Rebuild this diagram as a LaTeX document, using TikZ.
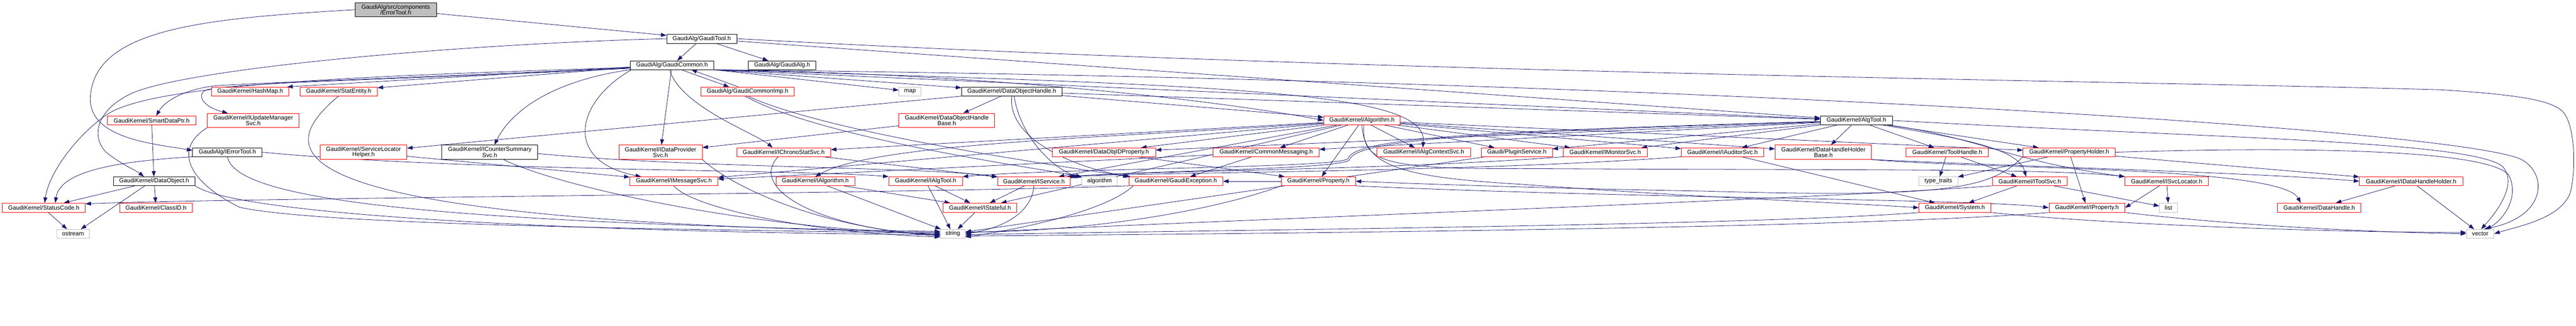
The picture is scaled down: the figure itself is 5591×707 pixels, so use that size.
\documentclass[tikz,border=0pt]{standalone}
\usepackage{fontspec}
\setmainfont{Liberation Sans}
\usetikzlibrary{arrows.meta}
\pgfdeclarelayer{bg}
\pgfsetlayers{bg,main}
\definecolor{edgec}{HTML}{191970}
\definecolor{redb}{HTML}{FF0000}
\definecolor{greyb}{HTML}{BFBFBF}
\newcommand\fsz{\fontsize{13pt}{12pt}\selectfont}
\newcommand\mknode[7]{\node[#1,minimum width={#5pt-#3pt},minimum height={#6pt-#4pt}] (#2) at ({(#3+#5)/2},{-(#4+#6)/2}) {#7};}
\tikzset{
  box/.style={draw, line width=0.9pt, fill=white, inner sep=0pt, font=\fsz, align=center, text=black},
  bk/.style={box, draw=black},
  rd/.style={box, draw=redb},
  gy/.style={box, draw=greyb},
  gf/.style={box, draw=black, fill=greyb},
  edg/.style={draw=edgec, line width=0.9pt, -{Triangle[length=12pt,width=8.5pt]}},
}
\begin{document}
\begin{tikzpicture}[x=1pt,y=1pt]
\useasboundingbox (0,0) rectangle (5591,-707);
% row 0-2
\mknode{gf}{ET}{771}{5.5}{947}{36.5}{GaudiAlg/src/components\\/ErrorTool.h}
\mknode{bk}{GT}{1447}{74}{1599}{94}{GaudiAlg/GaudiTool.h}
\mknode{bk}{GC}{1368}{132}{1549}{151}{GaudiAlg/GaudiCommon.h}
\mknode{bk}{GA}{1624}{132}{1771}{151}{GaudiAlg/GaudiAlg.h}
% row 3
\mknode{rd}{HM}{459}{189}{627}{208}{GaudiKernel/HashMap.h}
\mknode{rd}{SE}{651}{189}{819}{208}{GaudiKernel/StatEntity.h}
\mknode{rd}{GCI}{1521}{189}{1724}{208}{GaudiAlg/GaudiCommonImp.h}
\mknode{gy}{MAP}{1951}{189}{1999}{208}{map}
\mknode{bk}{DOH}{2087}{189}{2305}{208}{GaudiKernel/DataObjectHandle.h}
% row 4
\mknode{rd}{SDP}{233}{252}{425}{271}{GaudiKernel/SmartDataPtr.h}
\mknode{rd}{IUMS}{450}{246}{649}{277}{GaudiKernel/IUpdateManager\\Svc.h}
\mknode{rd}{DOHB}{1951}{246}{2159}{277}{GaudiKernel/DataObjectHandle\\Base.h}
\mknode{rd}{ALG}{2873}{252}{3039}{271}{GaudiKernel/Algorithm.h}
\mknode{bk}{AT}{3951}{252}{4107}{271}{GaudiKernel/AlgTool.h}
% row 5
\mknode{bk}{IET}{418}{321}{569}{340}{GaudiAlg/IErrorTool.h}
\mknode{rd}{SLH}{695}{315}{883}{346}{GaudiKernel/ServiceLocator\\Helper.h}
\mknode{bk}{ICSS}{959}{315}{1167}{346}{GaudiKernel/ICounterSummary\\Svc.h}
\mknode{rd}{IDPS}{1343}{315}{1524}{346}{GaudiKernel/IDataProvider\\Svc.h}
\mknode{rd}{ICSt}{1599}{321}{1803}{340}{GaudiKernel/IChronoStatSvc.h}
\mknode{rd}{DOIP}{2284}{321}{2508}{340}{GaudiKernel/DataObjIDProperty.h}
\mknode{rd}{CM}{2633}{321}{2863}{340}{GaudiKernel/CommonMessaging.h}
\mknode{rd}{IACS}{2988}{321}{3192}{340}{GaudiKernel/IAlgContextSvc.h}
\mknode{rd}{PS}{3215}{321}{3369}{340}{Gaudi/PluginService.h}
\mknode{rd}{IMS}{3393}{321}{3575}{340}{GaudiKernel/IMonitorSvc.h}
\mknode{rd}{IAS}{3649}{321}{3828}{340}{GaudiKernel/IAuditorSvc.h}
\mknode{rd}{DHHB}{3853}{315}{4062}{346}{GaudiKernel/DataHandleHolder\\Base.h}
\mknode{rd}{TH}{4137}{321}{4316}{340}{GaudiKernel/ToolHandle.h}
\mknode{rd}{PH}{4391}{321}{4591}{340}{GaudiKernel/PropertyHolder.h}
% row 6
\mknode{bk}{DO}{246}{384}{423}{403}{GaudiKernel/DataObject.h}
\mknode{rd}{IMsg}{1367}{384}{1558}{403}{GaudiKernel/IMessageSvc.h}
\mknode{rd}{IAlg}{1684}{384}{1855}{403}{GaudiKernel/IAlgorithm.h}
\mknode{rd}{IAT}{1929}{384}{2089}{403}{GaudiKernel/IAlgTool.h}
\mknode{rd}{IS}{2165}{384}{2323}{403}{GaudiKernel/IService.h}
\mknode{gy}{ALGO}{2348}{384}{2425}{403}{algorithm}
\mknode{rd}{GE}{2450}{384}{2654}{403}{GaudiKernel/GaudiException.h}
\mknode{rd}{PR}{2781}{384}{2942}{403}{GaudiKernel/Property.h}
\mknode{gy}{TT}{4165}{384}{4249}{403}{type\_traits}
\mknode{rd}{ITS}{4324}{384}{4487}{403}{GaudiKernel/IToolSvc.h}
\mknode{rd}{ISL}{4612}{384}{4793}{403}{GaudiKernel/ISvcLocator.h}
\mknode{rd}{IDHH}{5121}{384}{5345}{403}{GaudiKernel/IDataHandleHolder.h}
% row 7
\mknode{rd}{SC}{5}{441}{185}{461}{GaudiKernel/StatusCode.h}
\mknode{rd}{CID}{260}{441}{417}{461}{GaudiKernel/ClassID.h}
\mknode{rd}{IST}{2047}{441}{2207}{461}{GaudiKernel/IStateful.h}
\mknode{rd}{SYS}{4165}{441}{4321}{461}{GaudiKernel/System.h}
\mknode{rd}{IP}{4447}{441}{4612}{461}{GaudiKernel/IProperty.h}
\mknode{gy}{LIST}{4687}{441}{4726}{461}{list}
\mknode{rd}{DH}{4943}{441}{5124}{461}{GaudiKernel/DataHandle.h}
% row 8
\mknode{gy}{OS}{123}{498}{194}{517}{ostream}
\mknode{gy}{STR}{2041}{498}{2095}{517}{string}
\mknode{gy}{VEC}{5353}{498}{5413}{517}{vector}

\begin{pgfonlayer}{bg}
\fill[white] (0,0) rectangle (5591,-707);
% ErrorTool
\draw[edg] (ET) -- (GT);
\draw[edg] (ET.west) .. controls (450,-40) and (200,-60) .. (196,-215) .. controls (196,-300) and (330,-312) .. ([yshift=4pt]IET.west);
% GaudiTool
\draw[edg] (GT) -- (GC);
\draw[edg] (GT) -- (GA);
\draw[edg] (GT) -- (AT);
\draw[edg] (GT.west) .. controls (1000,-95) and (380,-150) .. (277,-207) .. controls (205,-245) and (200,-300) .. (230,-330) .. controls (260,-355) and (295,-370) .. ([xshift=-22pt]DO.north);
\draw[edg] (GT.east) .. controls (3000,-160) and (4600,-175) .. (5300,-195) .. controls (5450,-205) and (5530,-215) .. (5560,-240) .. controls (5592,-270) and (5590,-380) .. (5578,-420) .. controls (5555,-475) and (5470,-490) .. (VEC.east);
% GaudiCommon to the left
\draw[edg] ([yshift=-4pt]GC.west) -- ([xshift=-4pt]HM.north east);
\draw[edg] ([yshift=-5pt]GC.west) -- ([yshift=-2pt]SE.north east);
\draw[edg] ([yshift=-6pt]GC.west) .. controls (900,-168) and (560,-180) .. (470,-186) .. controls (410,-192) and (360,-215) .. ([xshift=10pt]SDP.north);
\draw[edg] ([yshift=-7pt]GC.west) .. controls (900,-172) and (520,-178) .. (448,-195) .. controls (425,-205) and (440,-232) .. ([xshift=-55pt]IUMS.north);
\draw[edg] ([yshift=-5pt]GC.west) .. controls (800,-165) and (330,-180) .. (230,-250) .. controls (160,-300) and (105,-380) .. ([xshift=2pt]SC.north);
\draw[edg] (GC.south west) .. controls (1200,-175) and (1110,-240) .. ([xshift=10pt]ICSS.north);
\draw[edg] (GC) -- (IDPS);
\draw[edg] ([xshift=-5pt]GC.south) .. controls (1475,-230) and (1640,-290) .. ([xshift=-24pt]ICSt.north);
\draw[edg] ([xshift=3pt]GC.south west) .. controls (1250,-220) and (1220,-350) .. ([xshift=25pt]IMsg.north west);
\draw[edg] ([xshift=20pt]GC.south) -- ([xshift=-40pt]GCI.north);
\draw[edg] ([xshift=-20pt]GCI.north) -- ([xshift=42pt]GC.south);
% GaudiCommon to the right
\draw[edg] (GC.south east) -- (MAP);
\draw[edg] ([xshift=-2pt]GC.south east) -- (DOH);
\draw[edg] ([xshift=-4pt]GC.south east) -- (AT);
\draw[edg] ([xshift=-6pt]GC.south east) .. controls (2700,-185) and (3100,-200) .. ([xshift=-2pt]IACS.north);
\draw[edg] ([xshift=-8pt]GC.south east) .. controls (2200,-160) and (2700,-228) .. (ALG.west);
\draw[edg] ([xshift=-10pt]GC.south east) .. controls (3500,-170) and (5300,-275) .. (5470,-345) .. controls (5530,-375) and (5530,-470) .. ([xshift=8pt]VEC.north);
% GaudiCommonImp
\draw[edg] (GCI.south) .. controls (1800,-290) and (2300,-360) .. (GE.north west);
\draw[edg] ([xshift=-6pt]GCI.south) .. controls (1780,-300) and (2250,-365) .. (ALGO.north west);
% left part
\draw[edg] (SDP) -- (DO);
\draw[edg] (SE.south) .. controls (590,-330) and (560,-480) .. ([yshift=3pt]STR.west);
\draw[edg] (IUMS.south west) .. controls (380,-320) and (400,-390) .. (520,-450) .. controls (700,-490) and (1500,-498) .. ([yshift=1pt]STR.west);
\draw[edg] (IET.east) .. controls (1000,-372) and (1750,-368) .. (IAT.north west);
\draw[edg] (IET.south west) .. controls (260,-350) and (130,-370) .. ([xshift=25pt]SC.north);
\draw[edg] (IET.south) .. controls (510,-420) and (800,-482) .. ([yshift=5pt]STR.west);
\draw[edg] (SLH) -- (IMsg);
\draw[edg] ([yshift=-3pt]ICSS.east) .. controls (1500,-365) and (2000,-362) .. (IS.north west);
\draw[edg] ([xshift=30pt]ICSS.south) .. controls (1200,-400) and (1600,-495) .. ([yshift=-1pt]STR.west);
\draw[edg] (IDPS.south east) .. controls (1600,-415) and (1800,-498) .. ([yshift=-3pt]STR.west);
\draw[edg] ([xshift=-12pt]ICSt.south) .. controls (1630,-400) and (1740,-490) .. ([yshift=-5pt]STR.west);
\draw[edg] (ICSt) -- (IS);
\draw[edg] (IMsg.south) .. controls (1500,-450) and (1750,-505) .. ([yshift=-7pt]STR.west);
\draw[edg] (IAlg) -- (IST);
\draw[edg] (IAlg) -- (STR);
\draw[edg] (IAT) -- (IST);
\draw[edg] (IAT) -- (STR);
\draw[edg] (IS) -- (IST);
\draw[edg] (IS.south) .. controls (2240,-460) and (2180,-495) .. (STR.east);
\draw[edg] (IST) -- (STR);
% DataObjectHandle
\draw[edg] (DOH) -- (DOHB);
\draw[edg] (DOH) -- (SLH);
\draw[edg] (DOH) -- (ALG);
\draw[edg] (DOH) -- (AT);
\draw[edg] (DOH.south) .. controls (2185,-300) and (2330,-365) .. ([xshift=4pt]GE.north west);
\draw[edg] ([xshift=5pt]DOH.south) .. controls (2215,-300) and (2290,-370) .. ([yshift=-2pt]ALGO.north west);
\draw[edg] (DOHB) -- (IDPS);
\draw[edg] (DOIP) -- (PR);
\draw[edg] (CM) -- (GE);
\draw[edg] (CM) -- (IMsg);
% Algorithm
\draw[edg] (ALG) -- (CM);
\draw[edg] (ALG) -- (PR);
\draw[edg] (ALG) -- (IACS);
\draw[edg] (ALG) -- (PS);
\draw[edg] (ALG) -- (IMS);
\draw[edg] (ALG) -- (IAS);
\draw[edg] (ALG) -- (DHHB);
\draw[edg] (ALG) -- (PH);
\draw[edg] (ALG) -- (IMsg);
\draw[edg] (ALG) -- (ICSt);
\draw[edg] (ALG) -- (IS);
\draw[edg] (ALG) -- (IST);
\draw[edg] (ALG) -- (DOIP);
\draw[edg] (ALG) .. controls (2400,-300) and (1900,-310) .. (IAlg.north);
\draw[edg] (ALG.south) .. controls (2960,-360) and (3040,-385) .. (3300,-400) .. controls (3700,-430) and (4000,-440) .. (SYS.west);
\draw[edg] ([xshift=4pt]ALG.south) .. controls (2955,-350) and (3000,-368) .. (3300,-366) .. controls (4000,-370) and (4450,-365) .. (ISL.north west);
% AlgTool
\draw[edg] (AT) -- (CM);
\draw[edg] (AT) -- (DOIP);
\draw[edg] (AT) -- (DHHB);
\draw[edg] (AT) -- (IAS);
\draw[edg] (AT) -- (TH);
\draw[edg] (AT) -- (PH);
\draw[edg] (AT) -- (IMS);
\draw[edg] (AT) -- (PS);
\draw[edg] (AT) .. controls (3200,-285) and (2940,-300) .. (2925,-345) .. controls (2900,-365) and (2300,-365) .. (IAT.north east);
\draw[edg] (AT) .. controls (3200,-288) and (2945,-302) .. (2928,-348) .. controls (2900,-368) and (2500,-370) .. (IS.north east);
\draw[edg] (AT) .. controls (4300,-300) and (4360,-350) .. (ISL.north west);
\draw[edg] (AT) .. controls (4250,-300) and (4380,-320) .. ([xshift=-8pt]ITS.north);
\draw[edg] (AT.east) .. controls (4800,-300) and (5350,-305) .. (5430,-360) .. controls (5470,-400) and (5410,-470) .. ([xshift=2pt]VEC.north);
% row 5 right
\draw[edg] (PS) -- (STR);
\draw[edg] (IMS.south west) .. controls (3000,-370) and (2500,-370) .. ([xshift=-4pt]IS.north east);
\draw[edg] (IAS.south west) .. controls (3200,-374) and (2500,-374) .. ([xshift=-8pt]IS.north east);
\draw[edg] (IAS) -- (SYS);
\draw[edg] (DHHB.south east) .. controls (4300,-368) and (4950,-360) .. ([xshift=-40pt]DH.north);
\draw[edg] (DHHB.south east) .. controls (4400,-362) and (4900,-375) .. (IDHH.west);
\draw[edg] (TH) -- (TT);
\draw[edg] (TH) -- (ITS);
\draw[edg] (PH) -- (IP);
\draw[edg] (PH) -- (TT);
\draw[edg] (PH) -- (IDHH);
\draw[edg] (PH.south west) .. controls (4320,-410) and (4230,-430) .. (3700,-415) .. controls (3300,-408) and (3000,-396) .. (PR.east);
\draw[edg] (PH.east) .. controls (5000,-318) and (5400,-325) .. (5445,-380) .. controls (5470,-430) and (5430,-480) .. ([xshift=12pt]VEC.north);
% row 6 right
\draw[edg] (ITS) -- (SYS);
\draw[edg] (ITS) -- (LIST);
\draw[edg] (ITS.south west) .. controls (4000,-430) and (2600,-480) .. ([yshift=2pt]STR.east);
\draw[edg] (ISL) -- (LIST);
\draw[edg] (ISL) -- (IP.east);
\draw[edg] (IDHH) -- (DH);
\draw[edg] (IDHH) -- (VEC);
\draw[edg] (SYS.south west) .. controls (3800,-490) and (2600,-500) .. ([yshift=-2pt]STR.east);
\draw[edg] (SYS.south east) .. controls (4600,-490) and (5100,-505) .. ([yshift=3pt]VEC.west);
\draw[edg] (IP.south west) .. controls (4000,-498) and (2600,-508) .. ([yshift=-5pt]STR.east);
\draw[edg] (IP.south east) .. controls (4900,-495) and (5200,-505) .. (VEC.west);
\draw[edg] (PR.south east) .. controls (3500,-430) and (4300,-432) .. (IP.west);
\draw[edg] (PR) -- (GE);
\draw[edg] (PR.south west) .. controls (2600,-470) and (2300,-505) .. ([yshift=4pt]STR.east);
\draw[edg] (GE.south west) .. controls (2000,-420) and (500,-430) .. ([yshift=-2pt]SC.north east);
\draw[edg] ([xshift=10pt]GE.south west) .. controls (2400,-460) and (2200,-500) .. ([yshift=-7pt]STR.east);
% DataObject and below
\draw[edg] (DO) -- (SC);
\draw[edg] (DO) -- (CID);
\draw[edg] ([xshift=-20pt]DO.south) -- ([xshift=17pt]OS.north);
\draw[edg] (DO.south east) .. controls (520,-470) and (1300,-505) .. ([yshift=-2pt]STR.west);
\draw[edg] ([xshift=10pt]SC.south) -- ([xshift=-13pt]OS.north);
\end{pgfonlayer}
\end{tikzpicture}
\end{document}
